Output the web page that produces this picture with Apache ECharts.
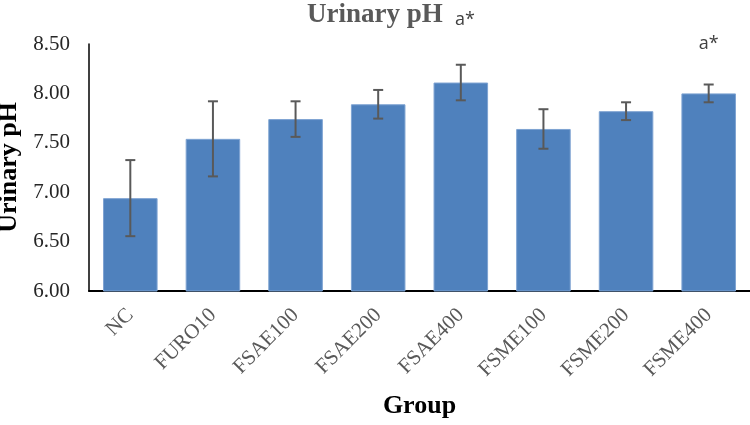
<!DOCTYPE html>
<html>
<head>
<meta charset="utf-8">
<script src="https://cdn.jsdelivr.net/npm/echarts@6/dist/echarts.min.js"></script>
<style>html,body{margin:0;padding:0;background:#fff}#c{width:750px;height:425px}</style>
</head>
<body>
<div id="c"></div>
<script>
const categories = ['NC', 'FURO10', 'FSAE100', 'FSAE200', 'FSAE400', 'FSME100', 'FSME200', 'FSME400'];
const means = [6.94, 7.54, 7.74, 7.89, 8.11, 7.64, 7.82, 8.00];
const sds = [0.385, 0.38, 0.18, 0.145, 0.18, 0.20, 0.09, 0.09];
const annotations = ['', '', '', '', '', '', '', 'a*'];
const yTicks = { min: 6, max: 8.5, interval: 0.5 };

const chart = echarts.init(document.getElementById('c'));
const serif = '"Liberation Serif", "Times New Roman", serif';
const errData = categories.map((c, i) => [i, means[i] - sds[i], means[i] + sds[i]]);

chart.setOption({
  animation: false,
  backgroundColor: '#fff',
  title: [
    { text: 'Urinary pH', left: 'center', top: -3,
      textStyle: { fontFamily: serif, fontWeight: 'bold', fontSize: 27, color: '#595959' } },
    { text: 'a*', left: 450, top: 6,
      textStyle: { fontFamily: '"Open Sans", sans-serif', fontWeight: 'normal', fontSize: 18, color: '#404040' } }
  ],
  grid: { left: 89, right: 0, top: 44, bottom: 134, containLabel: false, outerBoundsMode: 'none' },
  xAxis: {
    type: 'category',
    data: categories,
    name: 'Group',
    nameLocation: 'middle',
    nameGap: 102,
    nameTextStyle: { fontFamily: serif, fontWeight: 'bold', fontSize: 26, color: '#000' },
    axisLine: { lineStyle: { color: '#000', width: 2 } },
    axisTick: { show: false },
    axisLabel: { rotate: 45, margin: 21, fontFamily: serif, fontSize: 21, color: '#595959', interval: 0 }
  },
  yAxis: {
    type: 'value',
    min: yTicks.min, max: yTicks.max, interval: yTicks.interval,
    name: 'Urinary pH',
    nameLocation: 'middle',
    nameGap: 58,
    nameTextStyle: { fontFamily: serif, fontWeight: 'bold', fontSize: 26, color: '#000' },
    axisLine: { show: true, lineStyle: { color: '#000', width: 1.5 } },
    axisTick: { show: false },
    splitLine: { show: false },
    axisLabel: { margin: 19, fontFamily: serif, fontSize: 21, color: '#262626',
      formatter: v => v.toFixed(2) }
  },
  series: [
    {
      type: 'bar',
      data: means,
      barCategoryGap: '34%',
      itemStyle: { color: '#4F81BD', borderColor: '#7EA3D2', borderWidth: 1 }
    },
    {
      type: 'custom',
      data: errData,
      z: 10,
      renderItem: function (params, api) {
        const i = api.value(0);
        const lo = api.coord([i, api.value(1)]);
        const hi = api.coord([i, api.value(2)]);
        const hw = 5;
        const st = { stroke: '#595959', lineWidth: 2 };
        const children = [
          { type: 'line', shape: { x1: lo[0], y1: lo[1], x2: hi[0], y2: hi[1] }, style: st },
          { type: 'line', shape: { x1: lo[0] - hw, y1: lo[1], x2: lo[0] + hw, y2: lo[1] }, style: st },
          { type: 'line', shape: { x1: hi[0] - hw, y1: hi[1], x2: hi[0] + hw, y2: hi[1] }, style: st }
        ];
        const ann = annotations[params.dataIndex];
        if (ann) {
          const top = api.coord([i, yTicks.max]);
          children.push({ type: 'text', x: top[0], y: top[1],
            style: { text: ann, align: 'center', verticalAlign: 'middle',
              font: '18px "Open Sans", sans-serif', fill: '#404040' } });
        }
        return { type: 'group', children: children };
      }
    }
  ]
});
</script>
</body>
</html>
